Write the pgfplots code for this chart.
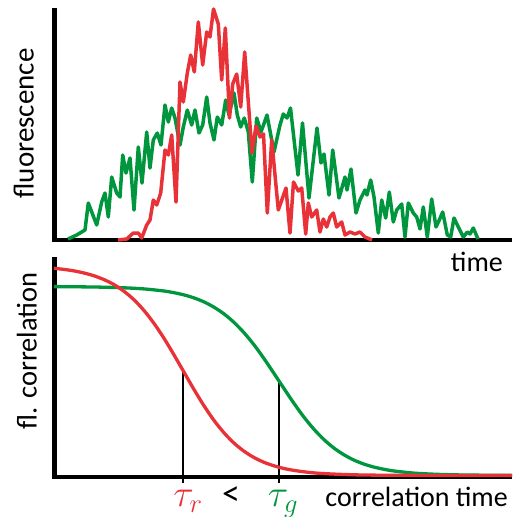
\documentclass[border=0pt]{standalone}
\usepackage{fix-cm}
\usepackage{fontspec}
\setmainfont{Carlito}
\usepackage{pgfplots}
\pgfplotsset{compat=1.18}
\definecolor{mred}{RGB}{232,50,56}
\definecolor{mgreen}{RGB}{0,150,62}
\begin{document}
\begin{tikzpicture}
\useasboundingbox (0,0) rectangle (518bp,-517bp);
% ---------- top panel: fluorescence traces ----------
\begin{axis}[
  scale only axis, width=457.5bp, height=232bp,
  at={(54.5bp,-240bp)}, anchor=south west,
  xmin=54.5, xmax=512, ymin=0, ymax=232,
  hide axis, clip=false]
\draw[line width=4.4bp, black] (axis cs:54.5,232) -- (axis cs:54.5,0) -- (axis cs:512,0);
\addplot[mgreen, line width=3.5bp, line join=round] coordinates {
(68,1) (76.7,5) (85,10) (88.3,37) (96.7,15) (101.7,38) (105,47) (108.3,23) (111.7,63) (116.7,47) (120,43) (122.7,85) (126,67) (130,82) (134,30) (138.3,93) (142,57) (146.7,108) (150,72) (153.3,100) (157.3,107) (161,95) (165,135) (168.3,118) (171.7,132) (175,122) (180,95) (183.3,113) (187.3,130) (191.7,115) (195,130) (199,107) (202.7,115) (206.7,143) (210,117) (214,100) (217.3,123) (221.7,115) (225.7,140) (229,125) (234,147) (237.3,125) (240.7,113) (244.3,122) (248.3,108) (252.3,58) (256.7,122) (261,108) (267,125) (274,88) (280,115) (283.3,126) (287,122) (290.5,132) (298,65) (302.5,117) (309,42) (317,112) (321,77) (324,86) (329,45) (332.7,90) (339,42) (345,63) (347,50) (351,71) (356,27) (360,40) (365,50) (367,45) (370.7,60) (374,43) (378.3,7) (381.7,40) (385.7,22) (389.3,48) (393.3,18) (396.7,30) (401.7,36) (405,3) (408.3,37) (413.3,27) (416.7,23) (420,11) (423.3,33) (427.3,3) (431.7,41) (436,13) (439.3,20) (442.7,28) (447.3,5) (450.7,3) (454,22) (458.3,13) (463.3,3) (467.3,8) (470,6) (473.3,12) (478,1)
};
\addplot[mred, line width=3.5bp, line join=round] coordinates {
(118,0) (126.7,1) (133.3,7) (138.3,7) (141.7,2) (146.7,15) (150,20) (153.3,40) (156.7,35) (160.7,47) (165,90) (168.3,85) (171.7,105) (176,38) (180,158) (183.3,138) (187.3,167) (190.7,185) (194.3,168) (198.3,218) (202.7,175) (206.7,208) (210,203) (213.5,231) (218.3,216) (221.7,160) (225.3,212) (229.5,122) (232.7,156) (236.7,166) (240.7,133) (244.7,188) (252,87) (256,114) (260,103) (263.5,106) (267.3,27) (271.7,100) (278.3,30) (286,52) (290,7) (293.5,58) (298.3,49) (301.7,52) (305.7,6) (308.3,37) (311.7,23) (316.7,30) (320,8) (323.3,21) (326.7,13) (330,23) (333.3,27) (336.7,13) (341.7,18) (345,5) (350,8) (355,6) (360,8) (365,3) (372,0)
};
\end{axis}
% ---------- bottom panel: correlation curves ----------
\begin{axis}[
  scale only axis, width=457.5bp, height=220bp,
  at={(54.5bp,-477bp)}, anchor=south west,
  xmin=54.5, xmax=512, ymin=0, ymax=220,
  hide axis, clip=false]
\draw[line width=4.4bp, black] (axis cs:54.5,220) -- (axis cs:54.5,0) -- (axis cs:512,0);
\addplot[black, line width=1.3bp] coordinates {(183,-6) (183,106)};
\addplot[black, line width=1.3bp] coordinates {(279,-6) (279,96)};
\addplot[mgreen, line width=3.3bp, smooth] coordinates {
(54,190.4) (94,190.0) (124,189.2) (144,188.1) (164,186.0) (174,184.3) (184,182.1) (194,179.1) (204,175.1) (214,169.8) (224,163.1) (234,154.6) (244,144.3) (254,132.2) (264,118.4) (274,103.6) (284,88.4) (294,73.6) (304,59.8) (314,47.7) (324,37.4) (334,28.9) (344,22.2) (354,16.9) (364,12.9) (374,9.9) (384,7.7) (394,6.0) (414,3.9) (434,2.8) (454,2.2) (474,1.9) (512,1.6)
};
\addplot[mred, line width=3.3bp, smooth] coordinates {
(54,208.7) (64,207.6) (74,206.1) (84,204.0) (94,201.2) (104,197.4) (114,192.4) (124,185.7) (134,177.2) (144,166.5) (154,153.6) (164,138.7) (174,122.1) (184,104.8) (194,87.5) (204,71.2) (214,56.6) (224,44.2) (234,33.9) (244,25.8) (254,19.5) (264,14.7) (274,11.2) (284,8.5) (294,6.6) (304,5.2) (314,4.1) (324,3.4) (344,2.5) (364,2.0) (394,1.7) (434,1.55) (474,1.5) (512,1.5)
};
\end{axis}
% ---------- labels ----------
\node[rotate=90, anchor=base, inner sep=0pt, font=\fontsize{29bp}{35bp}\selectfont] at (33.5bp,-123.5bp) {fluorescence};
\node[rotate=90, anchor=base, inner sep=0pt, font=\fontsize{28.5bp}{34bp}\selectfont] at (36.5bp,-351bp) {fl. correlation};
\node[anchor=base east, inner sep=0pt, font=\fontsize{28bp}{34bp}\selectfont] at (503bp,-271bp) {time};
\node[anchor=base east, inner sep=0pt, font=\fontsize{28bp}{34bp}\selectfont] at (508bp,-506.5bp) {correlation time};
\node[anchor=base, inner sep=0pt, text=mred, font=\fontsize{38bp}{44bp}\selectfont] at (188bp,-506.5bp) {$\tau_r$};
\node[anchor=base, inner sep=0pt, font=\fontsize{36bp}{42bp}\selectfont] at (231bp,-505.5bp) {<};
\node[anchor=base, inner sep=0pt, text=mgreen, font=\fontsize{38bp}{44bp}\selectfont] at (283bp,-506.5bp) {$\tau_g$};
\end{tikzpicture}
\end{document}
